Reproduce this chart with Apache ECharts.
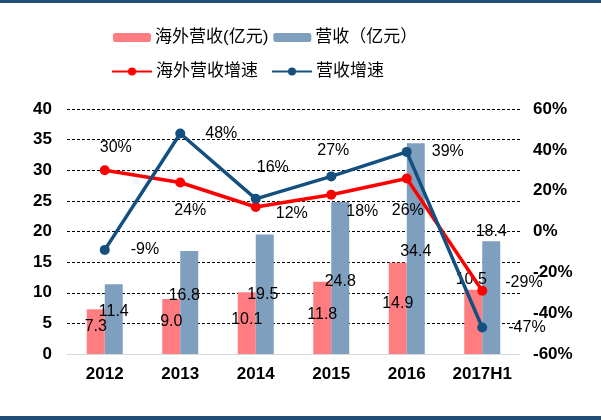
<!DOCTYPE html>
<html>
<head>
<meta charset="utf-8">
<script src="https://cdn.jsdelivr.net/npm/echarts@6/dist/echarts.min.js"></script>
<style>
html,body{margin:0;padding:0;background:#fff;}
#wrap{width:601px;height:420px;box-sizing:border-box;border-top:3px solid #1f4e79;border-bottom:4px solid #1f4e79;position:relative;}
#chart{position:absolute;left:0;top:-3px;width:601px;height:420px;}
</style>
</head>
<body>
<div id="wrap"><div id="chart"></div></div>
<script>
// 数据
var years = ['2012', '2013', '2014', '2015', '2016', '2017H1'];
var haiwaiRev = [7.3, 9.0, 10.1, 11.8, 14.9, 10.5];     //海外营收(亿元)
var totalRev = [11.4, 16.8, 19.5, 24.8, 34.4, 18.4];    //营收（亿元）
var haiwaiGrowth = [30, 24, 12, 18, 26, -29];           //海外营收增速 %
var totalGrowth = [-9, 48, 16, 27, 39, -47];            //营收增速 %

var FONT = '"Liberation Sans", "Noto Sans CJK SC", sans-serif';
var myChart = echarts.init(document.getElementById('chart'));

//标签位置 (仿Excel手动摆放)
var redBarLbl = [['inside',[0,-5]],['inside',[0,-5]],['inside',[0,-3]],['inside',[0,-3]],['inside',[0,-5]],['top',[-2,3]]];
var blueBarLbl = [['inside',[0,-7]],['inside',[-5,-7]],['inside',[-2,0]],['inside',[0,4]],['inside',[0,3]],['top',[0,3]]];
var redLineLbl = [['top',[11,-5]],['bottom',[10,10]],['right',[10,7]],['right',[5,17]],['bottom',[1,14]],['right',[13,-8]]];
var blueLineLbl = [['right',[16,0]],['right',[15,0]],['top',[17,-13]],['top',[2,-8]],['right',[15,0]],['right',[16,0]]];

function withLabels(vals, pos, fmt){
	var out = [];
	for (var i = 0; i < vals.length; i++) {
		out.push({value: vals[i], label: {position: pos[i][0], offset: pos[i][1], formatter: fmt}});
	}
	return out;
}

var lblStyle = {show: true, color: '#000', fontSize: 16, fontFamily: FONT};
var legendText = {fontSize: 17, color: '#000', fontFamily: FONT, padding: [0, 0, 0, -1]};

var option = {
	animation: false,
	textStyle: {fontFamily: FONT},
	legend: [{
		data: ['海外营收(亿元)', '营收（亿元）'],
		left: 108, top: 24,
		itemWidth: 38, itemHeight: 9, itemGap: 5,
		textStyle: legendText
	}, {
		data: ['海外营收增速', '营收增速'],
		left: 106, top: 58,
		itemWidth: 40, itemHeight: 10, itemGap: 13,
		textStyle: legendText
	}],
	grid: {left: 67, right: 81, top: 109, bottom: 66},
	xAxis: {
		type: 'category',
		data: years,
		axisTick: {show: false},
		axisLine: {lineStyle: {color: '#d9d9d9', width: 1}},
		axisLabel: {color: '#000', fontSize: 17, fontWeight: 'bold', margin: 12, interval: 0, fontFamily: FONT}
	},
	yAxis: [{
		type: 'value', min: 0, max: 40, interval: 5,
		axisLine: {show: false}, axisTick: {show: false},
		axisLabel: {color: '#000', fontSize: 17, fontWeight: 'bold', margin: 15, fontFamily: FONT},
		splitLine: {lineStyle: {color: '#000', type: [3, 2], width: 1}}
	}, {
		type: 'value', min: -60, max: 60, interval: 20,
		axisLine: {show: false}, axisTick: {show: false},
		axisLabel: {color: '#000', fontSize: 17, fontWeight: 'bold', margin: 13, formatter: '{value}%', fontFamily: FONT},
		splitLine: {show: false}
	}],
	series: [{
		name: '海外营收(亿元)', type: 'bar', yAxisIndex: 0,
		barWidth: 18, barGap: '0%',
		itemStyle: {color: '#ff7c80'},
		label: lblStyle,
		data: withLabels(haiwaiRev, redBarLbl, function(p){ return p.value.toFixed(1); })
	}, {
		name: '营收（亿元）', type: 'bar', yAxisIndex: 0,
		barWidth: 18, barGap: '0%',
		itemStyle: {color: '#7f9fbf'},
		label: lblStyle,
		data: withLabels(totalRev, blueBarLbl, function(p){ return p.value.toFixed(1); })
	}, {
		name: '海外营收增速', type: 'line', yAxisIndex: 1,
		symbol: 'circle', symbolSize: 10,
		lineStyle: {color: '#ff0000', width: 3.5},
		itemStyle: {color: '#ff0000'},
		label: lblStyle,
		z: 3,
		data: withLabels(haiwaiGrowth, redLineLbl, '{c}%')
	}, {
		name: '营收增速', type: 'line', yAxisIndex: 1,
		symbol: 'circle', symbolSize: 10,
		lineStyle: {color: '#14507f', width: 3.5},
		itemStyle: {color: '#14507f'},
		label: lblStyle,
		z: 4,
		data: withLabels(totalGrowth, blueLineLbl, '{c}%')
	}]
};
myChart.setOption(option);
</script>
</body>
</html>
